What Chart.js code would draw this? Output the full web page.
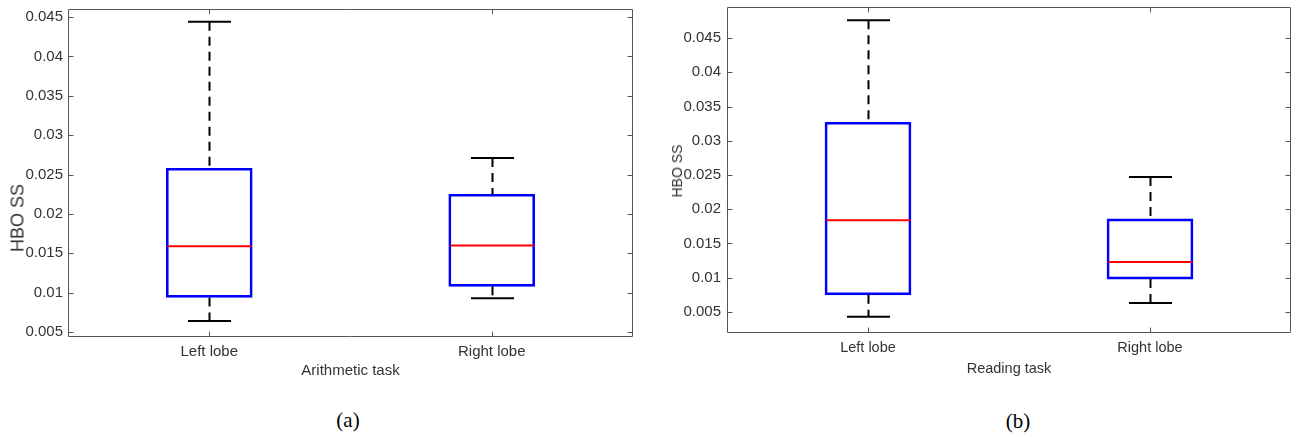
<!DOCTYPE html>
<html>
<head>
<meta charset="utf-8">
<script src="https://cdn.jsdelivr.net/npm/chart.js@4.4.1/dist/chart.umd.min.js"></script>
<style>
  html, body { margin: 0; padding: 0; background: #fff; }
  #page { position: relative; width: 1296px; height: 437px; overflow: hidden; background: #fff; }
  canvas { position: absolute; }
  .ytitle { position: absolute; font-family: "Liberation Sans", Arial, sans-serif; color: #333; white-space: nowrap;
            transform: translate(-50%, -50%) rotate(-90deg); }
  .cap { position: absolute; font-family: "Liberation Serif", "Times New Roman", serif; color: #000; font-size: 21px;
         transform: translate(-50%, -50%); white-space: nowrap; }
</style>
</head>
<body>
<div id="page">
  <canvas id="cA" width="645" height="395" style="left:0px;top:-5px;"></canvas>
  <canvas id="cB" width="651" height="394" style="left:645px;top:-8px;"></canvas>
  <div class="ytitle" style="left:18px;top:218px;font-size:18px;">HBO SS</div>
  <div class="ytitle" style="left:677px;top:171px;font-size:14px;">HBO SS</div>
  <div class="cap" style="left:348px;top:420px;">(a)</div>
  <div class="cap" style="left:1018px;top:421px;">(b)</div>
</div>
<script>
// ---------------- DATA ----------------
const categories = ['Left lobe', 'Right lobe'];

// (a) Arithmetic task
const arithMin = [0.0064, 0.0093];
const arithQ1  = [0.0094, 0.0108];
const arithMed = [0.0159, 0.0160];
const arithQ3  = [0.0258, 0.0225];
const arithMax = [0.0444, 0.0271];
const arithRange = [0.00437, 0.04602];

// (b) Reading task
const readMin = [0.0043, 0.0063];
const readQ1  = [0.0075, 0.0098];
const readMed = [0.0184, 0.0123];
const readQ3  = [0.0327, 0.0186];
const readMax = [0.0476, 0.0247];
const readRange = [0.00193, 0.04953];

const yTicks = [0.005, 0.01, 0.015, 0.02, 0.025, 0.03, 0.035, 0.04, 0.045];
const yTickLabels = ['0.005', '0.01', '0.015', '0.02', '0.025', '0.03', '0.035', '0.04', '0.045'];
const xTicks = [1, 2];

// ---------------- DRAWING ----------------
Chart.defaults.font.family = '"Liberation Sans", Arial, sans-serif';
Chart.defaults.color = '#333';

const boxExtras = {
  id: 'boxExtras',
  afterDatasetsDraw(chart, args, opts) {
    const ctx = chart.ctx, xs = chart.scales.x, ys = chart.scales.y;
    const half = opts.capHalf, boxHalf = opts.boxHalf;
    ctx.save();
    for (let i = 0; i < categories.length; i++) {
      const x = Math.round(xs.getPixelForValue(xTicks[i])) + 0.5;
      const yMin = ys.getPixelForValue(opts.min[i]);
      const yQ1 = ys.getPixelForValue(opts.q1[i]);
      const yQ3 = ys.getPixelForValue(opts.q3[i]);
      const yMax = ys.getPixelForValue(opts.max[i]);
      const yMed = ys.getPixelForValue(opts.med[i]);
      // whiskers (dashed)
      ctx.strokeStyle = '#000';
      ctx.lineWidth = 2;
      ctx.setLineDash([9, 6]);
      ctx.beginPath(); ctx.moveTo(x, yMax); ctx.lineTo(x, yQ3); ctx.stroke();
      ctx.beginPath(); ctx.moveTo(x, yQ1); ctx.lineTo(x, yMin); ctx.stroke();
      ctx.setLineDash([]);
      // caps
      ctx.beginPath();
      ctx.moveTo(x - half, yMax); ctx.lineTo(x + half, yMax);
      ctx.moveTo(x - half, yMin); ctx.lineTo(x + half, yMin);
      ctx.stroke();
      // median
      ctx.strokeStyle = '#ff0000';
      ctx.beginPath(); ctx.moveTo(x - boxHalf + 1, yMed); ctx.lineTo(x + boxHalf - 1, yMed); ctx.stroke();
    }
    ctx.restore();
  },
  afterDraw(chart) {
    const ctx = chart.ctx, a = chart.chartArea, xs = chart.scales.x, ys = chart.scales.y;
    const L = Math.round(a.left) + 0.5, R = Math.round(a.right) - 0.5;
    const T = Math.round(a.top) + 0.5, B = Math.round(a.bottom) - 0.5;
    ctx.save();
    ctx.strokeStyle = '#555';
    ctx.lineWidth = 1;
    ctx.beginPath();
    ctx.rect(L, T, R - L, B - T);
    ys.ticks.forEach((t) => {
      const y = Math.round(ys.getPixelForValue(t.value)) + 0.5;
      ctx.moveTo(L, y); ctx.lineTo(L + 5, y);
      ctx.moveTo(R, y); ctx.lineTo(R - 5, y);
    });
    xs.ticks.forEach((t) => {
      const x = Math.round(xs.getPixelForValue(t.value)) + 0.5;
      ctx.moveTo(x, B); ctx.lineTo(x, B - 5);
      ctx.moveTo(x, T); ctx.lineTo(x, T + 5);
    });
    ctx.stroke();
    ctx.restore();
  }
};

function makeChart(id, s, cfg) {
  return new Chart(document.getElementById(id), {
    type: 'bar',
    data: {
      datasets: [{
        data: categories.map((c, i) => ({ x: xTicks[i], y: [s.q1[i], s.q3[i]] })),
        backgroundColor: 'rgba(0,0,0,0)',
        borderColor: '#0000ff',
        borderWidth: 2,
        borderSkipped: false,
        barThickness: cfg.boxWidth
      }]
    },
    plugins: [boxExtras],
    options: {
      responsive: false,
      animation: false,
      devicePixelRatio: 1,
      layout: { padding: cfg.padding },
      plugins: {
        legend: { display: false },
        tooltip: { enabled: false },
        boxExtras: { min: s.min, q1: s.q1, med: s.med, q3: s.q3, max: s.max,
                     capHalf: cfg.boxWidth / 4, boxHalf: cfg.boxWidth / 2 }
      },
      scales: {
        x: {
          type: 'linear', min: 0.5, max: 2.5, offset: false,
          grid: { display: false, drawTicks: false },
          border: { display: false },
          afterBuildTicks: (sc) => { sc.ticks = xTicks.map(v => ({ value: v })); },
          afterFit: (sc) => { sc.height = cfg.xHeight; },
          ticks: { autoSkip: false, maxRotation: 0, padding: cfg.xPad, font: { size: cfg.xFont },
                   callback: (v) => categories[xTicks.indexOf(v)] },
          title: { display: true, text: cfg.xTitle, font: { size: cfg.xFont },
                   padding: { top: 0, bottom: cfg.titlePad } }
        },
        y: {
          min: s.range[0], max: s.range[1],
          grid: { display: false, drawTicks: false },
          border: { display: false },
          afterBuildTicks: (sc) => { sc.ticks = yTicks.map(v => ({ value: v })); },
          afterFit: (sc) => { sc.width = cfg.yWidth; },
          ticks: { autoSkip: false, padding: cfg.yPad, font: { size: 15 },
                   callback: (v) => yTickLabels[yTicks.indexOf(v)] }
        }
      }
    }
  });
}

makeChart('cA',
  { min: arithMin, q1: arithQ1, med: arithMed, q3: arithQ3, max: arithMax, range: arithRange },
  { boxWidth: 86, padding: { top: 9, right: 12, left: 0, bottom: 0 }, xHeight: 53, xPad: 6, xFont: 15,
    xTitle: 'Arithmetic task', titlePad: 10, yWidth: 68, yPad: 5 });

makeChart('cB',
  { min: readMin, q1: readQ1, med: readMed, q3: readQ3, max: readMax, range: readRange },
  { boxWidth: 86, padding: { top: 9, right: 5, left: 0, bottom: 0 }, xHeight: 53, xPad: 6, xFont: 14.5,
    xTitle: 'Reading task', titlePad: 8, yWidth: 82, yPad: 6 });
</script>
</body>
</html>
